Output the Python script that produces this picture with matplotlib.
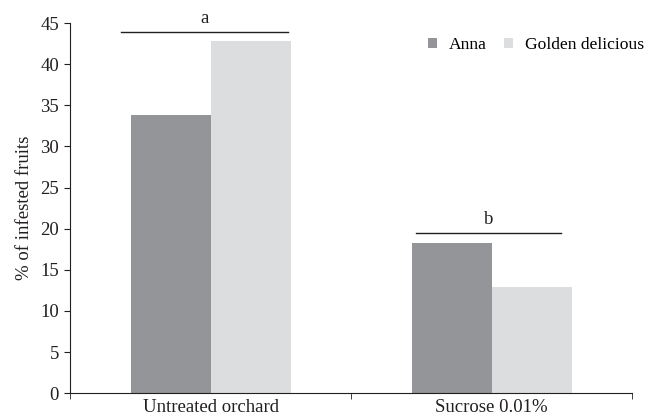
import matplotlib
matplotlib.use("Agg")
import matplotlib.pyplot as plt
import numpy as np

categories = ["Untreated orchard", "Sucrose 0.01%"]
series_names = ["Anna", "Golden delicious"]
anna = [33.8, 18.3]
golden = [42.8, 12.9]
sig_letters = ["a", "b"]
sig_heights = [43.9, 19.5]
yticks = [0, 5, 10, 15, 20, 25, 30, 35, 40, 45]

plt.rcParams['font.family'] = ['Liberation Serif', 'DejaVu Serif']
FS = 13.5

fig = plt.figure(figsize=(6.49, 4.2), dpi=100)
ax = fig.add_axes([0.108, 0.064, 0.866, 0.881])

x = np.arange(len(categories))
w = 0.285
ax.bar(x - w/2, anna, w, color="#939598", label=series_names[0])
ax.bar(x + w/2, golden, w, color="#dcdddf", label=series_names[1])

spans = [(-0.318, 0.276), (0.731, 1.247)]
for (x0, x1), h, s in zip(spans, sig_heights, sig_letters):
    ax.plot([x0, x1], [h, h], color="#231f20", lw=1.0, clip_on=False)
    ax.text((x0 + x1) / 2, h + 0.6, s, ha="center", va="bottom", fontsize=FS, color="#231f20")

ax.set_xlim(-0.5, 1.5)
ax.set_ylim(0, 45)
ax.set_yticks(yticks)
ax.set_xticks(x)
ax.set_xticklabels(categories, fontsize=FS, color="#231f20")
ax.set_xticks([-0.5, 0.5, 1.5], minor=True)
ax.tick_params(axis="x", which="major", length=0, pad=4)
ax.tick_params(axis="x", which="minor", length=4, direction="out", color="#231f20")
ax.tick_params(axis="y", length=4, direction="out", labelsize=FS, color="#231f20", labelcolor="#231f20", pad=4)
for sp in ["top", "right"]:
    ax.spines[sp].set_visible(False)
for sp in ["left", "bottom"]:
    ax.spines[sp].set_color("#231f20")
ax.set_ylabel("% of infested fruits", fontsize=FS, color="#231f20", labelpad=5)

ax.legend(loc="upper right", bbox_to_anchor=(1.05, 1.005), ncol=2, frameon=False, fontsize=12.6,
          handlelength=0.5, handleheight=0.5, columnspacing=1.0, handletextpad=0.7)

fig.savefig("out.png", dpi=100)
